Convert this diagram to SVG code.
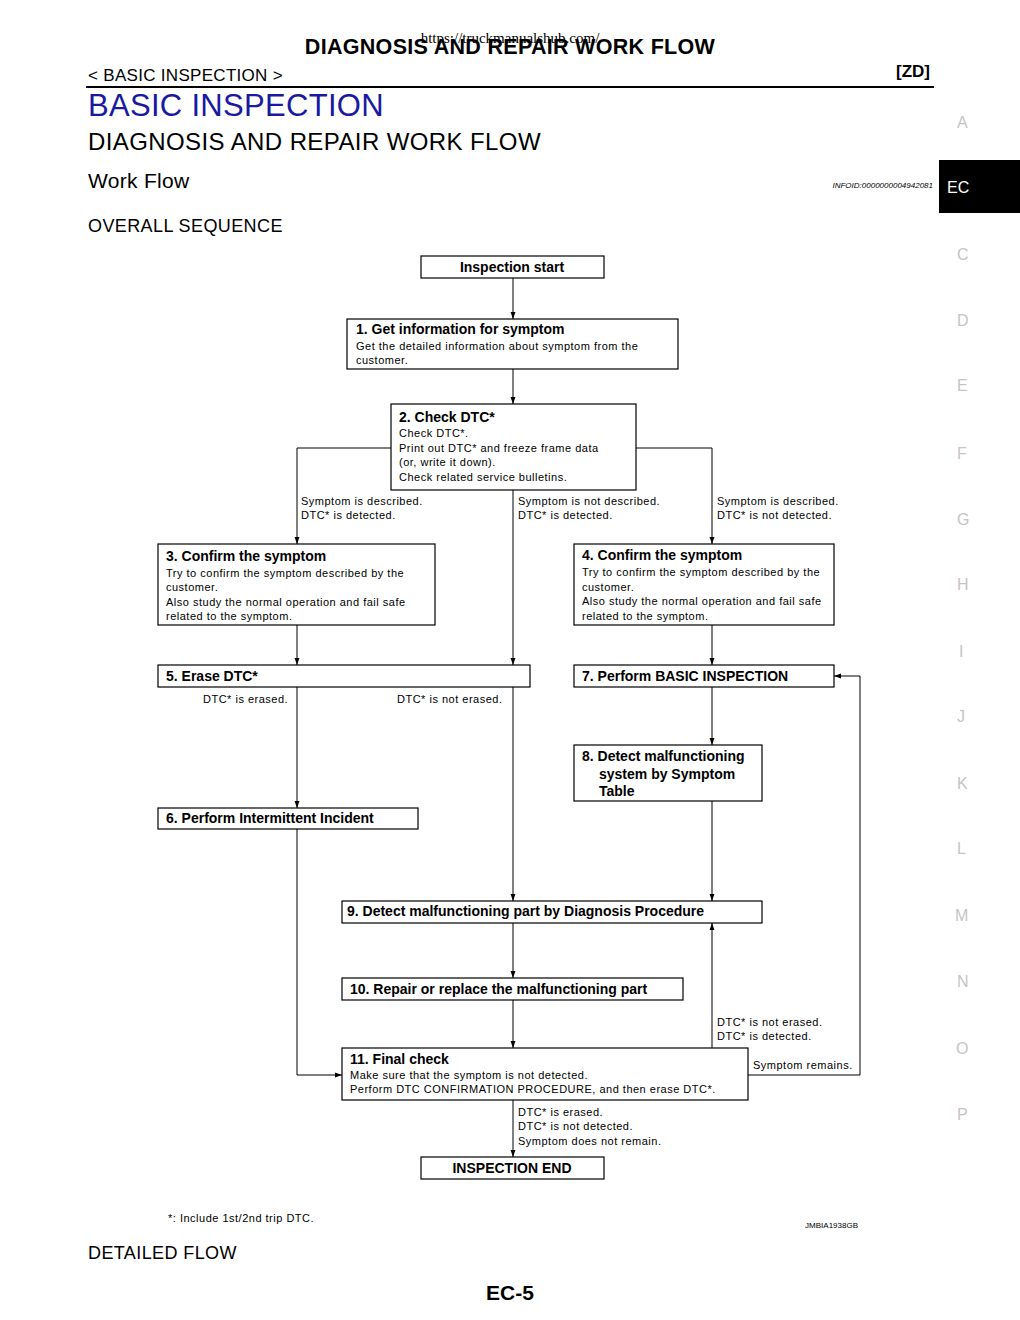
<svg xmlns="http://www.w3.org/2000/svg" width="1020" height="1320" viewBox="0 0 1020 1320">
<defs>
<marker id="ah" viewBox="0 0 10 10" refX="10" refY="5" markerWidth="7" markerHeight="7" orient="auto" markerUnits="userSpaceOnUse"><path d="M0,1.5 L10,5 L0,8.5 z" fill="#000"/></marker>
</defs>
<style>
text{font-family:"Liberation Sans",Arial,sans-serif;fill:#000}
.b{fill:#fff;stroke:#000;stroke-width:1.2}
.t{font-size:14px;font-weight:bold}
.s{font-size:11px;letter-spacing:0.5px}
.c line,.c polyline{stroke:#000;stroke-width:1;fill:none}
.side text{font-size:16px;fill:#c4c4c4}
</style>
<rect width="1020" height="1320" fill="#fff"/>
<text x="510" y="54" text-anchor="middle" style="font-size:21.5px;font-weight:bold;letter-spacing:0.3px">DIAGNOSIS AND REPAIR WORK FLOW</text>
<text x="510" y="43" text-anchor="middle" style="font-family:'Liberation Serif',serif;font-size:15px">https://truckmanualshub.com/</text>
<text x="88" y="81" style="font-size:17px;letter-spacing:0.3px">&lt; BASIC INSPECTION &gt;</text>
<text x="930" y="77" text-anchor="end" style="font-size:17px;font-weight:bold">[ZD]</text>
<line x1="86" y1="87" x2="934" y2="87" stroke="#000" stroke-width="2"/>
<text x="88" y="116" style="font-size:31px;fill:#1a1aa0;letter-spacing:0.3px">BASIC INSPECTION</text>
<text x="88" y="150" style="font-size:24px;letter-spacing:0.4px">DIAGNOSIS AND REPAIR WORK FLOW</text>
<text x="88" y="188" style="font-size:21px;letter-spacing:0.3px">Work Flow</text>
<text x="933" y="188" text-anchor="end" style="font-size:8px;font-style:italic">INFOID:0000000004942081</text>
<text x="88" y="232" style="font-size:18px;letter-spacing:0.4px">OVERALL SEQUENCE</text>
<rect x="939" y="160" width="81" height="53" fill="#000"/>
<text x="947" y="193" style="font-size:16px;fill:#fff">EC</text>
<g class="side">
<text x="957" y="128">A</text><text x="957" y="260">C</text><text x="957" y="326">D</text><text x="957" y="391">E</text><text x="957" y="459">F</text><text x="957" y="525">G</text><text x="957" y="590">H</text><text x="959" y="657">I</text><text x="957" y="722">J</text><text x="957" y="789">K</text><text x="957" y="854">L</text><text x="955" y="921">M</text><text x="957" y="987">N</text><text x="956" y="1054">O</text><text x="957" y="1120">P</text>
</g>
<g class="c">
<line x1="513" y1="278" x2="513" y2="319" marker-end="url(#ah)"/>
<line x1="513" y1="369" x2="513" y2="404" marker-end="url(#ah)"/>
<polyline points="391,448 297,448 297,544" marker-end="url(#ah)"/>
<line x1="513" y1="490" x2="513" y2="665" marker-end="url(#ah)"/>
<polyline points="636,448 712,448 712,544" marker-end="url(#ah)"/>
<line x1="297" y1="625" x2="297" y2="665" marker-end="url(#ah)"/>
<line x1="712" y1="625" x2="712" y2="665" marker-end="url(#ah)"/>
<line x1="297" y1="687" x2="297" y2="808" marker-end="url(#ah)"/>
<line x1="513" y1="687" x2="513" y2="901" marker-end="url(#ah)"/>
<line x1="712" y1="687" x2="712" y2="745" marker-end="url(#ah)"/>
<line x1="712" y1="801" x2="712" y2="901" marker-end="url(#ah)"/>
<polyline points="297,829 297,1075 342,1075" marker-end="url(#ah)"/>
<line x1="513" y1="923" x2="513" y2="978" marker-end="url(#ah)"/>
<line x1="513" y1="1000" x2="513" y2="1048" marker-end="url(#ah)"/>
<line x1="712" y1="1048" x2="712" y2="923" marker-end="url(#ah)"/>
<polyline points="748,1075 860,1075 860,676 834,676" marker-end="url(#ah)"/>
<line x1="513" y1="1100" x2="513" y2="1157" marker-end="url(#ah)"/>
</g>
<g id="start"><rect class="b" x="421" y="256" width="183" height="22"/><text class="t" x="512" y="272" text-anchor="middle">Inspection start</text></g>
<g id="n1"><rect class="b" x="347" y="319" width="331" height="50"/><text class="t" x="356" y="334">1. Get information for symptom</text><text class="s" x="356" y="350">Get the detailed information about symptom from the</text><text class="s" x="356" y="364">customer.</text></g>
<g id="n2"><rect class="b" x="391" y="404" width="245" height="86"/><text class="t" x="399" y="422">2. Check DTC*</text><text class="s" x="399" y="437">Check DTC*.</text><text class="s" x="399" y="452">Print out DTC* and freeze frame data</text><text class="s" x="399" y="466">(or, write it down).</text><text class="s" x="399" y="481">Check related service bulletins.</text></g>
<g id="lbl1"><text class="s" x="301" y="505">Symptom is described.</text><text class="s" x="301" y="519">DTC* is detected.</text><text class="s" x="518" y="505">Symptom is not described.</text><text class="s" x="518" y="519">DTC* is detected.</text><text class="s" x="717" y="505">Symptom is described.</text><text class="s" x="717" y="519">DTC* is not detected.</text></g>
<g id="n3"><rect class="b" x="158" y="544" width="277" height="81"/><text class="t" x="166" y="561">3. Confirm the symptom</text><text class="s" x="166" y="577">Try to confirm the symptom described by the</text><text class="s" x="166" y="591">customer.</text><text class="s" x="166" y="606">Also study the normal operation and fail safe</text><text class="s" x="166" y="620">related to the symptom.</text></g>
<g id="n4"><rect class="b" x="574" y="544" width="260" height="81"/><text class="t" x="582" y="560">4. Confirm the symptom</text><text class="s" x="582" y="576">Try to confirm the symptom described by the</text><text class="s" x="582" y="591">customer.</text><text class="s" x="582" y="605">Also study the normal operation and fail safe</text><text class="s" x="582" y="620">related to the symptom.</text></g>
<g id="n5"><rect class="b" x="158" y="665" width="372" height="22"/><text class="t" x="166" y="681">5. Erase DTC*</text></g>
<g id="n7"><rect class="b" x="574" y="665" width="260" height="22"/><text class="t" x="582" y="681">7. Perform BASIC INSPECTION</text></g>
<text class="s" x="203" y="703">DTC* is erased.</text>
<text class="s" x="397" y="703">DTC* is not erased.</text>
<g id="n8"><rect class="b" x="574" y="745" width="188" height="56"/><text class="t" x="582" y="761">8. Detect malfunctioning</text><text class="t" x="599" y="779">system by Symptom</text><text class="t" x="599" y="796">Table</text></g>
<g id="n6"><rect class="b" x="158" y="808" width="260" height="21"/><text class="t" x="166" y="823">6. Perform Intermittent Incident</text></g>
<g id="n9"><rect class="b" x="342" y="901" width="420" height="22"/><text class="t" x="347" y="916">9. Detect malfunctioning part by Diagnosis Procedure</text></g>
<g id="n10"><rect class="b" x="342" y="978" width="341" height="22"/><text class="t" x="350" y="994">10. Repair or replace the malfunctioning part</text></g>
<text class="s" x="717" y="1026">DTC* is not erased.</text>
<text class="s" x="717" y="1040">DTC* is detected.</text>
<text class="s" x="753" y="1069">Symptom remains.</text>
<g id="n11"><rect class="b" x="342" y="1048" width="406" height="52"/><text class="t" x="350" y="1064">11. Final check</text><text class="s" x="350" y="1079">Make sure that the symptom is not detected.</text><text class="s" x="350" y="1093">Perform DTC CONFIRMATION PROCEDURE, and then erase DTC*.</text></g>
<text class="s" x="518" y="1116">DTC* is erased.</text>
<text class="s" x="518" y="1130">DTC* is not detected.</text>
<text class="s" x="518" y="1145">Symptom does not remain.</text>
<g id="end"><rect class="b" x="421" y="1157" width="183" height="22"/><text class="t" x="512" y="1173" text-anchor="middle">INSPECTION END</text></g>
<text class="s" x="168" y="1222">*: Include 1st/2nd trip DTC.</text>
<text x="858" y="1228" text-anchor="end" style="font-size:8px">JMBIA1938GB</text>
<text x="88" y="1259" style="font-size:18px;letter-spacing:0.4px">DETAILED FLOW</text>
<text x="510" y="1300" text-anchor="middle" style="font-size:21px;font-weight:bold">EC-5</text>
</svg>
